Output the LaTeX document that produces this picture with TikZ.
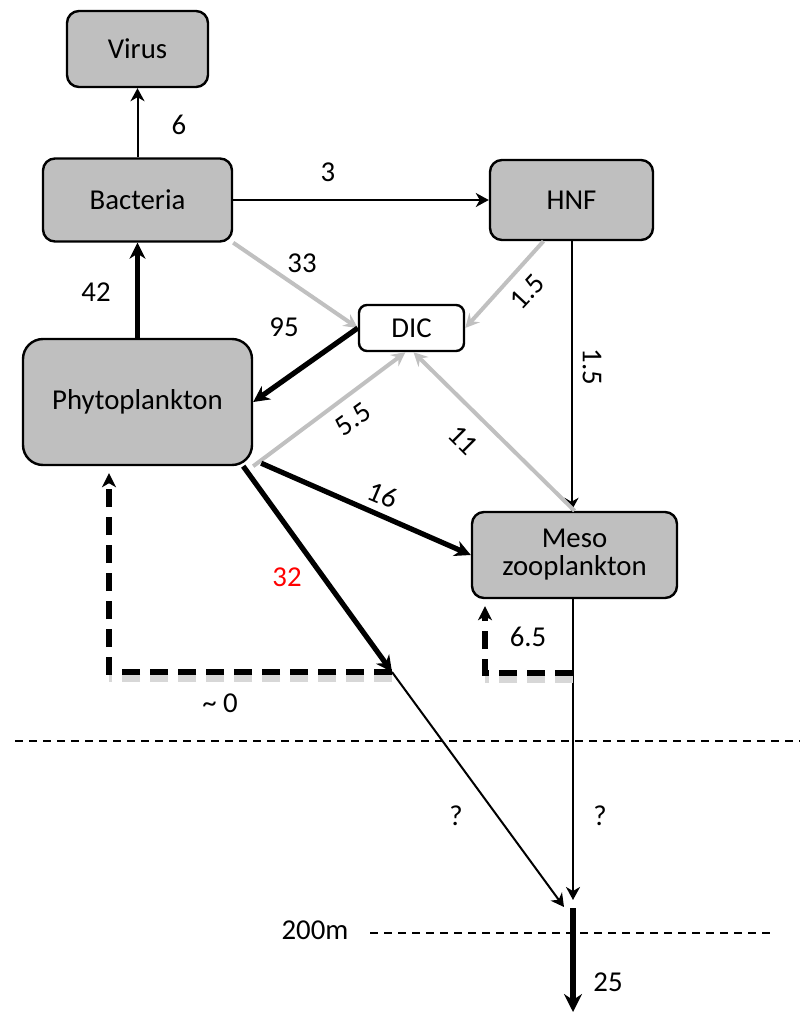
\documentclass[tikz,border=0pt]{standalone}
\usepackage{fontspec}
\setmainfont{Carlito}
\usetikzlibrary{arrows.meta}

\definecolor{poolgray}{RGB}{191,191,191}
\definecolor{respgray}{RGB}{192,192,192}
\definecolor{shadegray}{RGB}{215,215,215}

\tikzset{
	pool/.style={draw, line width=1.2pt, fill=poolgray, rounded corners=6pt, align=center, inner sep=0pt},
	flow/.style={line width=1pt, -{Stealth[length=6.5pt,width=7pt,inset=2pt]}},
	bigflow/.style={line width=2.6pt, -{Stealth[length=8pt,width=8pt,inset=2.5pt]}},
	respflow/.style={draw=respgray, line width=2pt, -{Stealth[length=7pt,width=7pt,inset=2.5pt,respgray]}},
	recycle/.style={line width=2.6pt, dash pattern=on 9pt off 5pt, -{Stealth[length=7pt,width=7pt,inset=2pt]}},
	recycleshade/.style={draw=shadegray, line width=3.6pt, dash pattern=on 9pt off 5pt, transform canvas={yshift=-3pt}},
	depth/.style={line width=0.8pt, dash pattern=on 4pt off 3pt},
	val/.style={inner sep=1pt}
}

\begin{document}
\begin{tikzpicture}[x=0.5pt, y=-0.5pt, font=\fontsize{14.4}{17}\selectfont]
					\useasboundingbox (0,0) rectangle (806,1012);
					
					% Pools
					\node[pool, minimum width=70.5pt, minimum height=38pt] (virus) at (137.5,49) {Virus};
					\node[pool, minimum width=94.5pt, minimum height=41.5pt] (bact) at (137.5,200) {Bacteria};
					\node[pool, minimum width=81.5pt, minimum height=40pt] (hnf) at (571.5,200) {HNF};
					\node[pool, fill=white, rounded corners=4pt, minimum width=52.5pt, minimum height=23pt] (dic) at (411.5,328) {DIC};
					\node[pool, rounded corners=10pt, minimum width=114.5pt, minimum height=63pt] (phyto) at (137.5,402) {Phytoplankton};
					\node[pool, minimum width=102.5pt, minimum height=43pt] (meso) at (574.5,555) {Meso\\[-3pt]zooplankton};
					
					% Depth lines
					\coordinate (mixL) at (15,741);
					\coordinate (mixR) at (800,741);
					\coordinate (deepL) at (370,933);
					\coordinate (deepR) at (770,933);
					\draw[depth] (mixL) -- (mixR);
					\draw[depth] (deepL) -- (deepR);
					
					% Bacteria fluxes
					\draw[flow] (bact.north) -- (virus.south);
					\draw[flow] (bact.east) -- (hnf.west);
					\draw[respflow] (bact.south east) -- (dic.west);
					
					% HNF fluxes
					\draw[respflow] ([xshift=-14pt]hnf.south) -- (dic.east);
					\draw[flow] (hnf.south) -- (hnf.south |- meso.north);
					
					% Phytoplankton fluxes
					\draw[bigflow] (bact.south |- phyto.north) -- (bact.south);
					\draw[bigflow] (dic.west) -- (phyto.east);
					\draw[respflow] (phyto.south east) -- ([xshift=-3pt]dic.south);
					\draw[respflow] (meso.north) -- ([xshift=1pt]dic.south);
					\draw[bigflow] ([xshift=4pt,yshift=1.5pt]phyto.south east) -- (meso.west);
					
					% Sinking
					\coordinate (trap) at (392,672);
					\coordinate (sink) at (564,907);
					\coordinate (mesotrap) at (573,673);
					\coordinate (export) at (573,908);
					\coordinate (bottom) at (573,1012);
					\draw[bigflow] ([xshift=-5pt]phyto.south east) -- (trap);
					\draw[flow] (trap) -- (sink);
					\draw[flow] (meso.south -| mesotrap) -- (573,900);
					\draw[line width=3.2pt, -{Stealth[length=9pt,width=9pt,inset=3pt]}] (export) -- (bottom);
					
					% Recycling below the mixed layer
					\draw[recycleshade] (trap) -- (109,672);
					\draw[recycleshade] (mesotrap) -- (485,673);
					\draw[recycle] (trap) -| ([yshift=-3.5pt]phyto.south -| 109,0);
					\draw[recycle] (mesotrap) -| ([yshift=-3.5pt]meso.south -| 485,0);
					
					% Values
					\node[val] (v6) at (179,125) {6};
					\node[val] (v3) at (328,172) {3};
					\node[val] (v33) at (302,263) {33};
					\node[val, rotate=47] (v15a) at (527,292) {1.5};
					\node[val, rotate=-90] (v15b) at (592,367) {1.5};
					\node[val] (v42) at (96,292) {42};
					\node[val] (v95) at (284,327) {95};
					\node[val, rotate=36] (v55) at (353,419) {5.5};
					\node[val, rotate=-45] (v11) at (463,440) {11};
					\node[val, rotate=-23] (v16) at (383,495) {16};
					\node[val, text=red] (v32) at (287,577) {32};
					\node[val] (v65) at (528,637) {6.5};
					\node[val] (v0) at (220,703) {\textasciitilde\ 0};
					\node[val] (q1) at (456,816) {?};
					\node[val] (q2) at (600,816) {?};
					\node[val] (v200) at (315,930) {200m};
					\node[val] (v25) at (608,982) {25};
				\end{tikzpicture}
\end{document}
